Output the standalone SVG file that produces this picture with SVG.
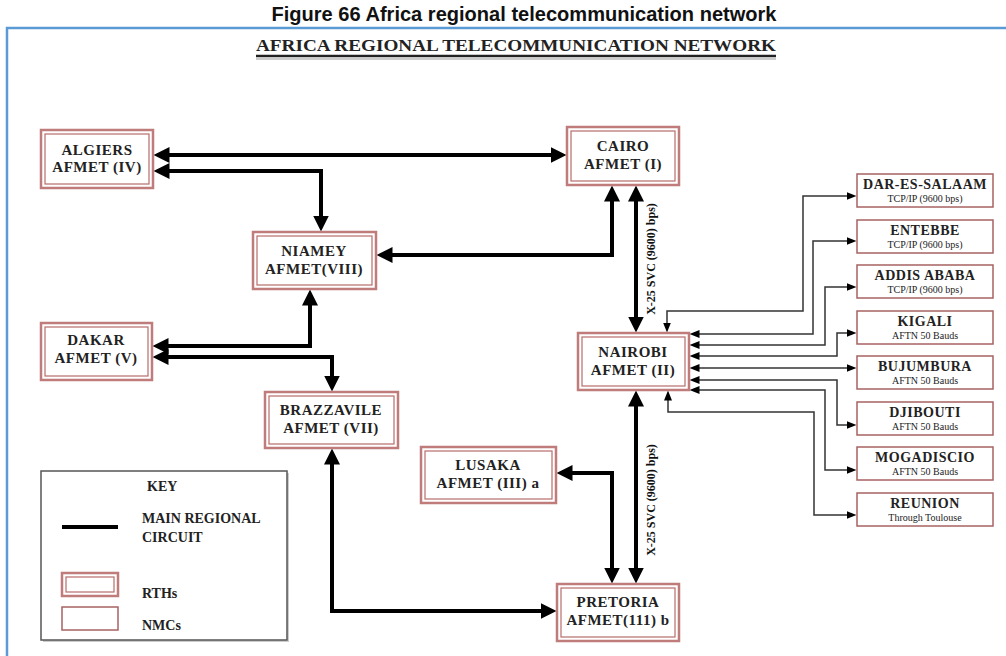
<svg xmlns="http://www.w3.org/2000/svg" width="1006" height="656" viewBox="0 0 1006 656">
<style>
.rth-o{fill:#fff;stroke:#c07b7b;stroke-width:2.5}
.rth-i{fill:none;stroke:#b86d6d;stroke-width:1.2}
.nmc{fill:#fff;stroke:#a86262;stroke-width:1.5}
.t{font-family:"Liberation Serif",serif;font-weight:bold;font-size:15px;fill:#222;text-anchor:middle;letter-spacing:0.5px}
.n{font-family:"Liberation Serif",serif;font-weight:bold;font-size:14px;fill:#222;text-anchor:middle;letter-spacing:0.5px}
.s{font-family:"Liberation Serif",serif;font-size:10px;fill:#222;text-anchor:middle}
.k{font-family:"Liberation Serif",serif;font-weight:bold;font-size:14px;fill:#222}
.main{fill:none;stroke:#000;stroke-width:4;marker-start:url(#big);marker-end:url(#big)}
.thin{fill:none;stroke:#333;stroke-width:1.5;marker-start:url(#sm);marker-end:url(#sm)}
.lbl{font-family:"Liberation Serif",serif;font-weight:bold;font-size:12px;fill:#111;text-anchor:middle}
</style>
<defs>
<marker id="big" markerUnits="userSpaceOnUse" markerWidth="17" markerHeight="17" refX="0.5" refY="8" orient="auto-start-reverse"><path d="M0,0 L16,8 L0,16 z" fill="#000"/></marker>
<marker id="sm" markerUnits="userSpaceOnUse" markerWidth="11" markerHeight="9" refX="0.5" refY="4" orient="auto-start-reverse"><path d="M0,0 L10,4 L0,8 z" fill="#000"/></marker>
</defs>
<rect width="1006" height="656" fill="#fff"/>
<text x="524" y="21" font-family="Liberation Sans, sans-serif" font-weight="bold" font-size="20" text-anchor="middle" fill="#111" textLength="505" lengthAdjust="spacingAndGlyphs">Figure 66 Africa regional telecommunication network</text>
<path d="M7,656 V28 H1006" fill="none" stroke="#5b9bd5" stroke-width="2.5"/>
<text x="516" y="51" font-family="Liberation Serif, serif" font-weight="bold" font-size="17" text-anchor="middle" fill="#222" textLength="520" lengthAdjust="spacingAndGlyphs">AFRICA REGIONAL TELECOMMUNICATION NETWORK</text>
<line x1="256" y1="56" x2="776" y2="56" stroke="#222" stroke-width="2.5"/>
<line x1="256" y1="59" x2="776" y2="59" stroke="#999" stroke-width="1"/>

<g id="connectors">
<path class="main" d="M169,155 H551"/>
<path class="main" d="M169,171 H321 V216"/>
<path class="main" d="M392,255 H612 V201"/>
<path class="main" d="M636,201 V317"/>
<path class="main" d="M636,406 V568"/>
<path class="main" d="M572,473 H612 V568"/>
<path class="main" d="M168,346 H310 V305"/>
<path class="main" d="M168,357 H332 V376"/>
<path class="main" d="M332,464 V611 H541"/>
<path class="thin" d="M847,196 H803 V311 H667 V323"/>
<path class="thin" d="M699,334 H813 V241 H847"/>
<path class="thin" d="M699,345 H825 V287 H847"/>
<path class="thin" d="M699,356 H837 V333 H847"/>
<path class="thin" d="M699,368 H847"/>
<path class="thin" d="M699,380 H837 V425 H847"/>
<path class="thin" d="M699,390 H825 V470 H847"/>
<path class="thin" d="M668,400 V412 H814 V515 H847"/>
<text class="lbl" transform="translate(655,259) rotate(-90)">X-25 SVC (9600) bps)</text>
<text class="lbl" transform="translate(655,500) rotate(-90)">X-25 SVC (9600) bps)</text>
</g>

<g id="algiers"><rect class="rth-o" x="41" y="130" width="112" height="58"/><rect class="rth-i" x="45" y="134" width="104" height="50"/><text class="t" x="97" y="155">ALGIERS</text><text class="t" x="97" y="172">AFMET (IV)</text></g>
<g id="cairo"><rect class="rth-o" x="567" y="127" width="112" height="58"/><rect class="rth-i" x="571" y="131" width="104" height="50"/><text class="t" x="623" y="151">CAIRO</text><text class="t" x="623" y="169">AFMET (I)</text></g>
<g id="niamey"><rect class="rth-o" x="253" y="232" width="123" height="57"/><rect class="rth-i" x="257" y="236" width="115" height="49"/><text class="t" x="314" y="256">NIAMEY</text><text class="t" x="314" y="274">AFMET(VIII)</text></g>
<g id="dakar"><rect class="rth-o" x="41" y="323" width="111" height="57"/><rect class="rth-i" x="45" y="327" width="103" height="49"/><text class="t" x="96" y="345">DAKAR</text><text class="t" x="96" y="363">AFMET (V)</text></g>
<g id="brazzavile"><rect class="rth-o" x="265" y="392" width="133" height="56"/><rect class="rth-i" x="269" y="396" width="125" height="48"/><text class="t" x="331" y="415">BRAZZAVILE</text><text class="t" x="331" y="433">AFMET (VII)</text></g>
<g id="nairobi"><rect class="rth-o" x="578" y="333" width="111" height="57"/><rect class="rth-i" x="582" y="337" width="103" height="49"/><text class="t" x="633" y="357">NAIROBI</text><text class="t" x="633" y="375">AFMET (II)</text></g>
<g id="lusaka"><rect class="rth-o" x="421" y="447" width="135" height="56"/><rect class="rth-i" x="425" y="451" width="127" height="48"/><text class="t" x="488" y="470">LUSAKA</text><text class="t" x="488" y="488">AFMET (III) a</text></g>
<g id="pretoria"><rect class="rth-o" x="557" y="584" width="122" height="57"/><rect class="rth-i" x="561" y="588" width="114" height="49"/><text class="t" x="618" y="607">PRETORIA</text><text class="t" x="618" y="625">AFMET(111) b</text></g>

<g id="dar"><rect class="nmc" x="857" y="174" width="136" height="33"/><text class="n" x="925" y="189">DAR-ES-SALAAM</text><text class="s" x="925" y="202">TCP/IP (9600 bps)</text></g>
<g id="entebbe"><rect class="nmc" x="857" y="220" width="136" height="33"/><text class="n" x="925" y="235">ENTEBBE</text><text class="s" x="925" y="248">TCP/IP (9600 bps)</text></g>
<g id="addis"><rect class="nmc" x="857" y="265" width="136" height="33"/><text class="n" x="925" y="280">ADDIS ABABA</text><text class="s" x="925" y="293">TCP/IP (9600 bps)</text></g>
<g id="kigali"><rect class="nmc" x="857" y="311" width="136" height="33"/><text class="n" x="925" y="326">KIGALI</text><text class="s" x="925" y="339">AFTN 50 Bauds</text></g>
<g id="bujumbura"><rect class="nmc" x="857" y="356" width="136" height="33"/><text class="n" x="925" y="371">BUJUMBURA</text><text class="s" x="925" y="384">AFTN 50 Bauds</text></g>
<g id="djibouti"><rect class="nmc" x="857" y="402" width="136" height="33"/><text class="n" x="925" y="417">DJIBOUTI</text><text class="s" x="925" y="430">AFTN 50 Bauds</text></g>
<g id="mogadiscio"><rect class="nmc" x="857" y="447" width="136" height="33"/><text class="n" x="925" y="462">MOGADISCIO</text><text class="s" x="925" y="475">AFTN 50 Bauds</text></g>
<g id="reunion"><rect class="nmc" x="857" y="493" width="136" height="33"/><text class="n" x="925" y="508">REUNION</text><text class="s" x="925" y="521">Through Toulouse</text></g>

<g id="key">
<rect x="43" y="473" width="246" height="169" fill="#ccc"/>
<rect x="41" y="471" width="246" height="169" fill="#fff" stroke="#555" stroke-width="1.5"/>
<text class="k" x="147" y="491">KEY</text>
<line x1="62" y1="527" x2="118" y2="527" stroke="#000" stroke-width="4"/>
<text class="k" x="142" y="523">MAIN REGIONAL</text>
<text class="k" x="142" y="542">CIRCUIT</text>
<rect class="rth-o" x="62" y="573" width="56" height="23"/><rect class="rth-i" x="66" y="577" width="48" height="15"/>
<text class="k" x="142" y="598">RTHs</text>
<rect class="nmc" x="62" y="607" width="56" height="23"/>
<text class="k" x="142" y="630">NMCs</text>
</g>
</svg>
